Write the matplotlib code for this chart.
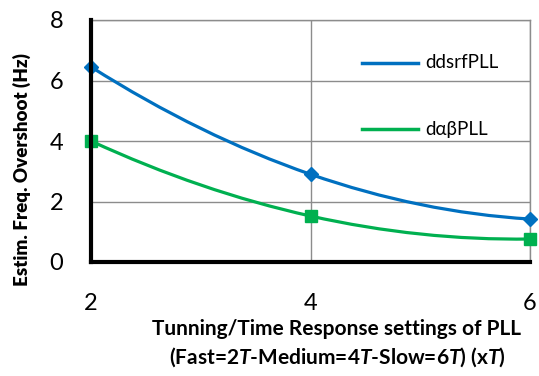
import matplotlib
matplotlib.use("Agg")
import matplotlib.pyplot as plt
from matplotlib.path import Path
from matplotlib.patches import PathPatch

plt.rcParams['font.family'] = ['Lato', 'DejaVu Sans']
plt.rcParams['mathtext.fontset'] = 'custom'
plt.rcParams['mathtext.bfit'] = 'Lato:italic:bold'
plt.rcParams['mathtext.it'] = 'Lato:italic'
plt.rcParams['mathtext.bf'] = 'Lato:bold'
plt.rcParams['mathtext.rm'] = 'Lato'

# data
settings = [2, 4, 6]
ddsrf = [6.45, 2.9, 1.42]
dab = [4.0, 1.52, 0.76]
series_names = ["ddsrfPLL", "d\u03b1\u03b2PLL"]
yticks = [0, 2, 4, 6, 8]

blue = "#0070C0"
green = "#00B050"
grid_c = "#8c8c8c"

fig = plt.figure(figsize=(5.39, 3.76), dpi=100)
ax = fig.add_axes([91/539, 1-262/376, (530-91)/539, (262-20)/376])


def smooth_path(xs, ys):
    # smoothed line through the points (hermite curve as bezier segments)
    n = len(xs)
    sec = [(ys[i+1] - ys[i]) / (xs[i+1] - xs[i]) for i in range(n - 1)]
    m = [0.0] * n
    for i in range(1, n - 1):
        m[i] = (ys[i+1] - ys[i-1]) / (xs[i+1] - xs[i-1])
    m[0] = 2 * sec[0] - m[1]
    m[-1] = 2 * sec[-1] - m[-2]
    verts = [(xs[0], ys[0])]
    codes = [Path.MOVETO]
    for i in range(n - 1):
        h = xs[i+1] - xs[i]
        verts += [(xs[i] + h/3, ys[i] + m[i]*h/3),
                  (xs[i+1] - h/3, ys[i+1] - m[i+1]*h/3),
                  (xs[i+1], ys[i+1])]
        codes += [Path.CURVE4] * 3
    return Path(verts, codes)


for ys, col, mk, ms in [(ddsrf, blue, "D", 7), (dab, green, "s", 8)]:
    ax.add_patch(PathPatch(smooth_path(settings, ys), fill=False, edgecolor=col,
                           lw=2.3, zorder=3, clip_on=False))
    ax.plot(settings, ys, linestyle="none", marker=mk, ms=ms, color=col,
            zorder=4, clip_on=False)

ax.set_xlim(2, 6)
ax.set_ylim(0, 8)
ax.set_xticks(settings)
ax.set_yticks(yticks)
ax.tick_params(length=0, labelsize=17)
ax.tick_params(axis='x', pad=22)
ax.tick_params(axis='y', pad=20)
ax.grid(True, color=grid_c, lw=1)
ax.set_axisbelow(True)
for s in ["top", "right"]:
    ax.spines[s].set_color(grid_c)
    ax.spines[s].set_linewidth(1)
for s in ["left", "bottom"]:
    ax.spines[s].set_color("black")
    ax.spines[s].set_linewidth(3)
    ax.spines[s].set_zorder(5)

# legend drawn as lines + text inside the axes
for yl, col, name in [(63, blue, series_names[0]), (129, green, series_names[1])]:
    yf = 1 - yl / 376
    fig.add_artist(plt.Line2D([362/539, 418/539], [yf, yf], color=col, lw=2.5))
    fig.text(425/539, yf, name, fontsize=13.5, va="center", ha="left")

fig.text(22/539, 1 - 170/376, "Estim. Freq. Overshoot (Hz)", rotation=90,
         fontsize=13.5, fontweight="heavy", ha="center", va="center")
fig.text(337/539, 1 - 329/376, "Tunning/Time Response settings of PLL",
         fontsize=15, fontweight="bold", ha="center", va="center")
fig.text(337/539, 1 - 357/376,
         r"(Fast=2$\mathbfit{T}$-Medium=4$\mathbfit{T}$-Slow=6$\mathbfit{T}$) (x$\mathbfit{T}$)",
         fontsize=15, fontweight="bold", ha="center", va="center")

fig.savefig("out.png", dpi=100)
